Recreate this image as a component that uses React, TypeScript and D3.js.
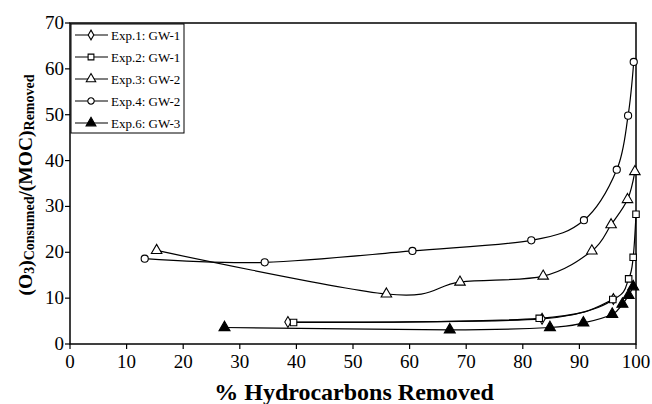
import React from "react";
import * as d3 from "d3";

// values
const xTicks = [0, 10, 20, 30, 40, 50, 60, 70, 80, 90, 100];
const yTicks = [0, 10, 20, 30, 40, 50, 60, 70];

const exp1X = [38.5, 83.4, 96.0];
const exp1Y = [4.8, 5.5, 9.8];
const exp2X = [39.5, 82.9, 95.9, 98.7, 99.5, 100];
const exp2Y = [4.7, 5.6, 9.7, 14.2, 18.9, 28.3];
const exp3X = [15.3, 55.9, 68.9, 83.6, 92.2, 95.6, 98.5, 99.8];
const exp3Y = [20.4, 10.9, 13.5, 14.8, 20.3, 26.0, 31.5, 37.6];
const exp4X = [13.2, 34.4, 60.5, 81.5, 90.8, 96.6, 98.6, 99.6];
const exp4Y = [18.6, 17.8, 20.3, 22.6, 27.0, 38.0, 49.8, 61.5];
const exp6X = [27.3, 67.1, 84.8, 90.7, 95.8, 97.6, 98.7, 99.5];
const exp6Y = [3.6, 3.1, 3.6, 4.6, 6.5, 8.7, 10.6, 12.5];

const seriesNames = ["Exp.1: GW-1", "Exp.2: GW-1", "Exp.3: GW-2", "Exp.4: GW-2", "Exp.6: GW-3"];

const serif = "'Liberation Serif', 'Times New Roman', 'DejaVu Serif', serif";

const series = [
  { name: seriesNames[0], xs: exp1X, ys: exp1Y, symbol: d3.symbolDiamond, size: 34, fill: "white" },
  { name: seriesNames[1], xs: exp2X, ys: exp2Y, symbol: d3.symbolSquare, size: 42, fill: "white" },
  { name: seriesNames[2], xs: exp3X, ys: exp3Y, symbol: d3.symbolTriangle, size: 48, fill: "white" },
  { name: seriesNames[3], xs: exp4X, ys: exp4Y, symbol: d3.symbolCircle, size: 40, fill: "white" },
  { name: seriesNames[4], xs: exp6X, ys: exp6Y, symbol: d3.symbolTriangle, size: 52, fill: "black" },
];

export default function App() {
  const width = 652;
  const height = 404;
  const left = 70, right = 636, top = 23, bottom = 344;

  const x = d3.scaleLinear().domain([0, 100]).range([left, right]);
  const y = d3.scaleLinear().domain([0, 70]).range([bottom, top]);

  const line = d3
    .line<[number, number]>()
    .x((d) => x(d[0]))
    .y((d) => y(d[1]))
    .curve(d3.curveCatmullRom.alpha(0));

  const legendX = left + 1;
  const legendY = 24;

  return (
    <svg
      width={width}
      height={height}
      style={{ position: "absolute", left: 0, top: 0, background: "white", fontFamily: serif }}
    >
      <rect x={0} y={0} width={width} height={height} fill="white" />

      {/* frame */}
      <rect x={left} y={top} width={right - left} height={bottom - top} fill="none" stroke="black" strokeWidth={1.5} />

      {/* y ticks */}
      {yTicks.map((t) => (
        <g key={"y" + t}>
          <line x1={left - 5} x2={left} y1={y(t)} y2={y(t)} stroke="black" strokeWidth={1.2} />
          <text x={left - 6} y={y(t) + 6} textAnchor="end" fontSize={19}>
            {t}
          </text>
        </g>
      ))}

      {/* x ticks */}
      {xTicks.map((t) => (
        <g key={"x" + t}>
          <line x1={x(t)} x2={x(t)} y1={bottom} y2={bottom + 5} stroke="black" strokeWidth={1.2} />
          <text x={x(t)} y={bottom + 24} textAnchor="middle" fontSize={19}>
            {t}
          </text>
        </g>
      ))}

      {/* lines */}
      {series.map((s, i) => (
        <path
          key={"l" + i}
          d={line(s.xs.map((v, j) => [v, s.ys[j]] as [number, number])) || ""}
          fill="none"
          stroke="black"
          strokeWidth={1.2}
        />
      ))}

      {/* markers */}
      {series.map((s, i) => (
        <g key={"m" + i}>
          {s.xs.map((v, j) => (
            <path
              key={j}
              transform={`translate(${x(v)},${y(s.ys[j])})`}
              d={d3.symbol().type(s.symbol).size(s.size)() || ""}
              fill={s.fill}
              stroke="black"
              strokeWidth={1.1}
            />
          ))}
        </g>
      ))}

      {/* legend */}
      <rect x={legendX} y={legendY} width={113} height={109} fill="white" stroke="black" strokeWidth={1} />
      {series.map((s, i) => {
        const ly = legendY + 11 + i * 22;
        return (
          <g key={"lg" + i}>
            <line x1={legendX + 4} x2={legendX + 37} y1={ly} y2={ly} stroke="black" strokeWidth={1.2} />
            <path
              transform={`translate(${legendX + 20},${ly})`}
              d={d3.symbol().type(s.symbol).size(s.size * 0.8)() || ""}
              fill={s.fill}
              stroke="black"
              strokeWidth={1.1}
            />
            <text x={legendX + 40} y={ly + 4.5} fontSize={13}>
              {s.name}
            </text>
          </g>
        );
      })}

      {/* axis titles */}
      <text x={(left + right) / 2 + 1} y={400} textAnchor="middle" fontWeight="bold" fontSize={24}>
        % Hydrocarbons Removed
      </text>
      <text transform="translate(32,185) rotate(-90)" textAnchor="middle" fontWeight="bold" fontSize={19.5}>
        (O<tspan fontSize={14} dy={2}>3</tspan>
        <tspan dy={-2}>)</tspan>
        <tspan fontSize={14} dy={2}>Consumed</tspan>
        <tspan dy={-2}>/(MOC)</tspan>
        <tspan fontSize={14} dy={2}>Removed</tspan>
      </text>
    </svg>
  );
}
